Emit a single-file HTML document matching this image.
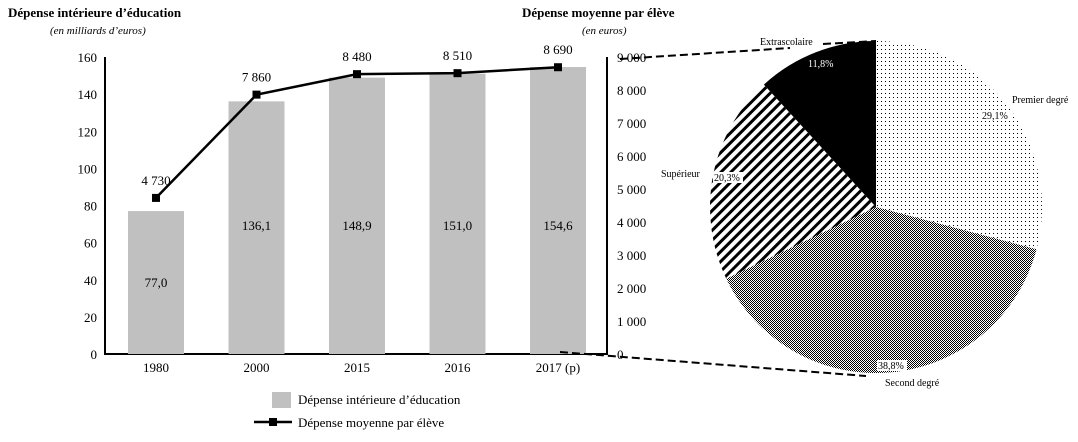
<!DOCTYPE html>
<html><head><meta charset="utf-8"><style>
body{margin:0;background:#fff;}
svg text{font-family:"Liberation Serif",serif;fill:#000;}
</style></head><body>
<svg id="c" width="1078" height="437" xmlns="http://www.w3.org/2000/svg">
<defs>
<pattern id="dots" width="4" height="4" patternUnits="userSpaceOnUse"><rect width="4" height="4" fill="#fff"/><rect x="1" y="1" width="1" height="1" fill="#000"/></pattern>
<pattern id="fine" width="2" height="2" patternUnits="userSpaceOnUse"><rect width="2" height="2" fill="#fff"/><rect width="1" height="1" fill="#000"/><rect x="1" y="1" width="1" height="1" fill="#000"/></pattern>
<pattern id="stripe" width="7" height="7" patternUnits="userSpaceOnUse" patternTransform="rotate(45)"><rect width="7" height="7" fill="#fff"/><rect width="3" height="7" fill="#000"/></pattern>
</defs>
<text x="8" y="17" font-size="13" font-weight="bold">Dépense intérieure d’éducation</text>
<text x="50" y="34" font-size="11" font-style="italic">(en milliards d’euros)</text>
<text x="522" y="17" font-size="13" font-weight="bold">Dépense moyenne par élève</text>
<text x="582" y="34" font-size="11" font-style="italic">(en euros)</text>
<g id="axes"></g><g id="bars"></g><g id="line"></g><g id="pie"></g>
<path d="M620 59 L790 48 M823 44 L876 41" stroke="#000" stroke-width="2" stroke-dasharray="8,4" fill="none"/>
<path d="M560 352 L866 376" stroke="#000" stroke-width="2" stroke-dasharray="8,4" fill="none"/>
<rect x="272" y="392" width="19" height="16" fill="#c0c0c0"/>
<text x="298" y="404" font-size="13">Dépense intérieure d’éducation</text>
<line x1="254" y1="422" x2="292" y2="422" stroke="#000" stroke-width="2.5"/>
<rect x="269" y="418" width="8" height="8" fill="#000"/>
<text x="298" y="427" font-size="13">Dépense moyenne par élève</text>
</svg>
<script>
const categories=["1980","2000","2015","2016","2017 (p)"];
const spending=[77.0,136.1,148.9,151.0,154.6];
const perPupil=[4730,7860,8480,8510,8690];
const leftTicks=[0,20,40,60,80,100,120,140,160];
const rightTicks=[0,1000,2000,3000,4000,5000,6000,7000,8000,9000];
const pieLabels=["Premier degré","Second degré","Supérieur","Extrascolaire"];
const pieValues=[29.1,38.8,20.3,11.8];
const NS="http://www.w3.org/2000/svg";
function mk(t,a,p,txt){const e=document.createElementNS(NS,t);for(const k in a)e.setAttribute(k,a[k]);if(txt!==undefined)e.textContent=txt;p.appendChild(e);return e;}
const x0=105,x1=607,yTop=57,yBot=354;
const yL=v=>yBot-(v/160)*(yBot-yTop);
const yR=v=>yBot-(v/9000)*(yBot-yTop);
const xC=i=>156+i*100.5;
const fmt=n=>String(n).replace(/\B(?=(\d{3})+(?!\d))/g," ");
const ax=document.getElementById('axes');
let e=mk('path',{d:`M${x0} ${yTop} L${x0} ${yBot} L${x1} ${yBot} L${x1} ${yTop}`,stroke:'#000','stroke-width':2,fill:'none'},ax);


leftTicks.forEach(v=>{const t=mk('text',{x:97,y:yL(v)+5,'font-size':13,'text-anchor':'end'},ax,fmt(v));

});
rightTicks.forEach(v=>{const t=mk('text',{x:617,y:yR(v)+5,'font-size':13},ax,fmt(v));

});
categories.forEach((c,i)=>{const t=mk('text',{x:xC(i),y:372,'font-size':13,'text-anchor':'middle'},ax,c);

});
const bg=document.getElementById('bars');
spending.forEach((v,i)=>{const r=mk('rect',{x:xC(i)-28,y:yL(v),width:56,height:yBot-yL(v),fill:'#c0c0c0'},bg);


const t=mk('text',{x:xC(i),y:i==0?287:230,'font-size':13,'text-anchor':'middle'},bg,v.toFixed(1).replace('.',','));

});
const lg=document.getElementById('line');
const pl=mk('polyline',{points:perPupil.map((v,i)=>xC(i)+','+yR(v)).join(' '),fill:'none',stroke:'#000','stroke-width':2.5},lg);


perPupil.forEach((v,i)=>{const r=mk('rect',{x:xC(i)-4,y:yR(v)-4,width:8,height:8,fill:'#000'},lg);


const t=mk('text',{x:xC(i),y:yR(v)-13,'font-size':13,'text-anchor':'middle'},lg,fmt(v));

});
const pg=document.getElementById('pie');
const cx=876,cy=207,R=166;const fills=['url(#dots)','url(#fine)','url(#stripe)','#000'];
const lab=[[1012,103],[885,386],[661,177],[760,45]];
const pct=[[982,119],[878,369],[714,181],[808,67]];
let a=0;const tot=pieValues.reduce((s,v)=>s+v,0);
pieValues.forEach((v,i)=>{const a0=a,a1=a+v/tot*2*Math.PI;a=a1;
const p=t=>[cx+R*Math.sin(t),cy-R*Math.cos(t)];const [sx,sy]=p(a0),[ex,ey]=p(a1);
const s=mk('path',{d:`M${cx} ${cy} L${sx} ${sy} A${R} ${R} 0 ${a1-a0>Math.PI?1:0} 1 ${ex} ${ey} Z`,fill:fills[i]},pg);


const t=mk('text',{x:lab[i][0],y:lab[i][1],'font-size':10},pg,pieLabels[i]);


const bgc=i==3?'#000':'#fff';
mk('rect',{x:pct[i][0]-1,y:pct[i][1]-9,width:30,height:11,fill:bgc},pg);
const q=mk('text',{x:pct[i][0],y:pct[i][1],'font-size':10,style:i==3?'fill:#fff':''},pg,v.toFixed(1).replace('.',',')+'%');

});
</script>
</body></html>
